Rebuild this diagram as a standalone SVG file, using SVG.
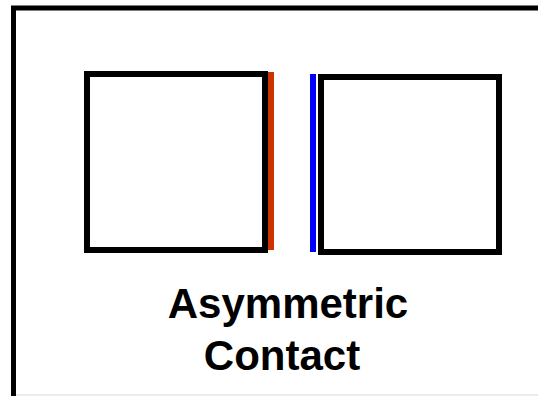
<svg xmlns="http://www.w3.org/2000/svg" width="538" height="396" viewBox="0 0 538 396">
<style>
.box{fill:#fff;stroke:#000;stroke-width:6}
.lbl{font-family:"Liberation Sans",Arial,sans-serif;font-weight:bold;font-size:42px;fill:#000;text-anchor:middle}
</style>
<rect width="538" height="396" fill="#fff"/>
<rect x="13.5" y="8" width="600" height="500" fill="none" stroke="#000" stroke-width="5"/>
<line x1="16" y1="395" x2="538" y2="395" stroke="#d8d8d8" stroke-width="1"/>
<g id="left-block">
<rect class="box" x="87" y="74" width="178" height="176"/>
</g>
<g id="right-block">
<rect class="box" x="321" y="77" width="178" height="175"/>
</g>
<g id="connectors">
<line x1="271" y1="72" x2="271" y2="250" stroke="#cc3300" stroke-width="6"/>
<line x1="313" y1="74" x2="313" y2="252" stroke="#0000ff" stroke-width="6"/>
</g>
<g id="label">
<text class="lbl" x="288" y="318">Asymmetric</text>
<text class="lbl" x="282" y="370">Contact</text>
</g>
</svg>
